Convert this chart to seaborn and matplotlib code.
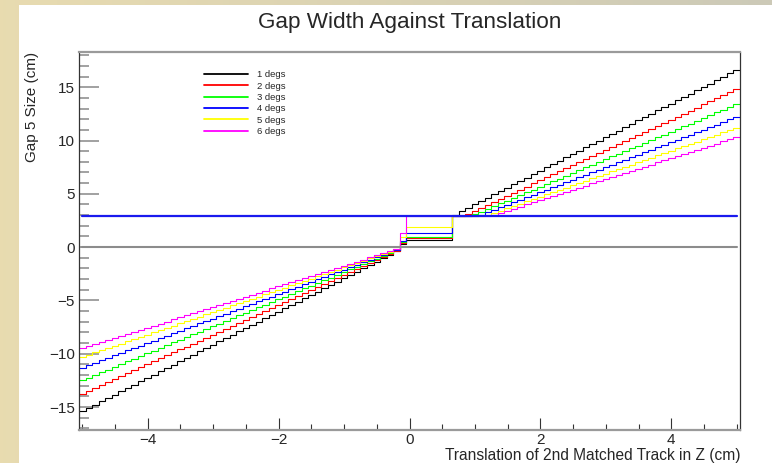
import numpy as np
import seaborn as sns
import matplotlib
matplotlib.use("Agg")
import matplotlib.pyplot as plt
from matplotlib.patches import Rectangle
from matplotlib.ticker import MultipleLocator

# histogram bins: 101 bins of width 0.1, centred on -5.0 ... 5.0
edges = np.arange(-50.5, 51.0, 1.0) / 10.0

labels = ["1 degs", "2 degs", "3 degs", "4 degs", "5 degs", "6 degs"]
colors = ["#000000", "#ff0000", "#00ff00", "#0000ff", "#ffff00", "#ff00ff"]

# bin contents, one row per unit of x (-5.0..-4.1, -4.0..-3.1, ..., 4.0..4.9, 5.0)
deg1 = [-15.40, -15.09, -14.78, -14.46, -14.15, -13.84, -13.53, -13.22, -12.90, -12.59,
        -12.28, -11.97, -11.66, -11.34, -11.03, -10.72, -10.41, -10.10, -9.78, -9.47,
        -9.16, -8.85, -8.54, -8.22, -7.91, -7.60, -7.29, -6.98, -6.66, -6.35,
        -6.04, -5.73, -5.42, -5.10, -4.79, -4.48, -4.17, -3.86, -3.54, -3.23,
        -2.92, -2.61, -2.30, -1.98, -1.67, -1.36, -1.05, -0.74, -0.38, 0.25,
        0.66, 0.66, 0.66, 0.66, 0.66, 0.66, 0.66, 3.06, 3.37, 3.69,
        4.00, 4.32, 4.63, 4.95, 5.26, 5.58, 5.89, 6.21, 6.52, 6.84,
        7.15, 7.47, 7.78, 8.10, 8.41, 8.73, 9.04, 9.36, 9.67, 9.99,
        10.30, 10.62, 10.93, 11.25, 11.56, 11.88, 12.19, 12.51, 12.82, 13.14,
        13.45, 13.77, 14.08, 14.40, 14.71, 15.03, 15.34, 15.66, 15.97, 16.29,
        16.60]
deg2 = [-13.80, -13.52, -13.24, -12.96, -12.68, -12.40, -12.12, -11.84, -11.56, -11.28,
        -11.00, -10.72, -10.44, -10.16, -9.88, -9.60, -9.32, -9.04, -8.76, -8.48,
        -8.20, -7.92, -7.64, -7.36, -7.08, -6.80, -6.52, -6.24, -5.96, -5.68,
        -5.40, -5.12, -4.84, -4.56, -4.28, -4.00, -3.72, -3.44, -3.16, -2.88,
        -2.60, -2.32, -2.04, -1.76, -1.48, -1.20, -0.92, -0.64, -0.33, 0.35,
        0.81, 0.81, 0.81, 0.81, 0.81, 0.81, 0.81, 2.95, 2.95, 3.12,
        3.40, 3.69, 3.97, 4.26, 4.54, 4.83, 5.11, 5.40, 5.68, 5.97,
        6.25, 6.54, 6.82, 7.11, 7.39, 7.68, 7.96, 8.25, 8.53, 8.82,
        9.10, 9.39, 9.67, 9.96, 10.24, 10.53, 10.81, 11.10, 11.38, 11.67,
        11.95, 12.24, 12.52, 12.81, 13.09, 13.38, 13.66, 13.95, 14.23, 14.52,
        14.80]
deg3 = [-12.50, -12.25, -11.99, -11.74, -11.48, -11.23, -10.98, -10.72, -10.47, -10.21,
        -9.96, -9.71, -9.45, -9.20, -8.94, -8.69, -8.44, -8.18, -7.93, -7.67,
        -7.42, -7.17, -6.91, -6.66, -6.40, -6.15, -5.90, -5.64, -5.39, -5.13,
        -4.88, -4.63, -4.37, -4.12, -3.86, -3.61, -3.36, -3.10, -2.85, -2.59,
        -2.34, -2.09, -1.83, -1.58, -1.32, -1.07, -0.82, -0.56, -0.29, 0.45,
        0.97, 0.97, 0.97, 0.97, 0.97, 0.97, 0.97, 2.95, 2.95, 2.95,
        3.08, 3.34, 3.60, 3.85, 4.11, 4.37, 4.63, 4.89, 5.14, 5.40,
        5.66, 5.92, 6.18, 6.43, 6.69, 6.95, 7.21, 7.47, 7.72, 7.98,
        8.24, 8.50, 8.76, 9.01, 9.27, 9.53, 9.79, 10.05, 10.30, 10.56,
        10.82, 11.08, 11.34, 11.59, 11.85, 12.11, 12.37, 12.63, 12.88, 13.14,
        13.40]
deg4 = [-11.30, -11.07, -10.84, -10.61, -10.38, -10.15, -9.92, -9.69, -9.46, -9.23,
        -9.00, -8.77, -8.54, -8.31, -8.08, -7.85, -7.62, -7.39, -7.16, -6.93,
        -6.70, -6.47, -6.24, -6.01, -5.78, -5.55, -5.32, -5.09, -4.86, -4.63,
        -4.40, -4.17, -3.94, -3.71, -3.48, -3.25, -3.02, -2.79, -2.56, -2.33,
        -2.10, -1.87, -1.64, -1.41, -1.18, -0.95, -0.72, -0.49, -0.25, 0.58,
        1.28, 1.28, 1.28, 1.28, 1.28, 1.28, 1.28, 2.95, 2.95, 2.95,
        2.95, 3.04, 3.27, 3.51, 3.74, 3.98, 4.21, 4.45, 4.68, 4.92,
        5.15, 5.39, 5.62, 5.86, 6.09, 6.33, 6.56, 6.80, 7.03, 7.27,
        7.50, 7.74, 7.97, 8.21, 8.44, 8.68, 8.91, 9.15, 9.38, 9.62,
        9.85, 10.09, 10.32, 10.56, 10.79, 11.03, 11.26, 11.50, 11.73, 11.97,
        12.20]
deg5 = [-10.30, -10.09, -9.88, -9.67, -9.46, -9.25, -9.04, -8.83, -8.62, -8.41,
        -8.20, -7.99, -7.78, -7.57, -7.36, -7.15, -6.94, -6.73, -6.52, -6.31,
        -6.10, -5.89, -5.68, -5.47, -5.26, -5.05, -4.84, -4.63, -4.42, -4.21,
        -4.00, -3.79, -3.58, -3.37, -3.16, -2.95, -2.74, -2.53, -2.32, -2.11,
        -1.90, -1.69, -1.48, -1.27, -1.06, -0.85, -0.64, -0.43, -0.21, 0.97,
        1.85, 1.85, 1.85, 1.85, 1.85, 1.85, 1.85, 2.95, 2.95, 2.95,
        2.95, 2.95, 3.00, 3.21, 3.42, 3.64, 3.86, 4.07, 4.29, 4.50,
        4.72, 4.94, 5.15, 5.37, 5.58, 5.80, 6.02, 6.23, 6.45, 6.66,
        6.88, 7.10, 7.31, 7.53, 7.74, 7.96, 8.18, 8.39, 8.61, 8.82,
        9.04, 9.26, 9.47, 9.69, 9.90, 10.12, 10.34, 10.55, 10.77, 10.98,
        11.20]
deg6 = [-9.50, -9.31, -9.11, -8.92, -8.72, -8.53, -8.34, -8.14, -7.95, -7.75,
        -7.56, -7.37, -7.17, -6.98, -6.78, -6.59, -6.40, -6.20, -6.01, -5.81,
        -5.62, -5.43, -5.23, -5.04, -4.84, -4.65, -4.46, -4.26, -4.07, -3.87,
        -3.68, -3.49, -3.29, -3.10, -2.90, -2.71, -2.52, -2.32, -2.13, -1.93,
        -1.74, -1.55, -1.35, -1.16, -0.96, -0.77, -0.58, -0.38, -0.18, 1.28,
        2.95, 2.95, 2.95, 2.95, 2.95, 2.95, 2.95, 2.95, 2.95, 2.95,
        2.95, 2.95, 2.95, 3.01, 3.21, 3.41, 3.60, 3.80, 4.00, 4.19,
        4.39, 4.59, 4.78, 4.98, 5.18, 5.38, 5.57, 5.77, 5.97, 6.16,
        6.36, 6.56, 6.75, 6.95, 7.15, 7.35, 7.54, 7.74, 7.94, 8.13,
        8.33, 8.53, 8.72, 8.92, 9.12, 9.32, 9.51, 9.71, 9.91, 10.10,
        10.30]
series = [deg1, deg2, deg3, deg4, deg5, deg6]

# reference lines
line_x = [-5.0, 5.0]
zero_level = [0.0, 0.0]
gap_level = [2.95, 2.95]

sns.set_style("white")
plt.rcParams["font.family"] = ["Liberation Sans", "DejaVu Sans"]

fig = plt.figure(figsize=(7.72, 4.63), dpi=100)
fig.patch.set_facecolor("#e6d9ab")

# desktop-like backdrop behind the canvas
bg = fig.add_axes([0, 0, 1, 1], zorder=-3)
grad = np.linspace(0, 1, 256)[None, :, None]
c0 = np.array([0.91, 0.86, 0.69])
c1 = np.array([0.80, 0.79, 0.72])
bg.imshow(c0 + (c1 - c0) * grad, aspect="auto", extent=[0, 1, 0, 1])
bg.axis("off")
fig.add_artist(Rectangle((19 / 772, 0), 1, (463 - 5) / 463, transform=fig.transFigure,
                         facecolor="white", edgecolor="none", zorder=-2))

ax = fig.add_axes([79 / 772, 1 - 430 / 463, 661 / 772, 378 / 463])
ax.set_facecolor("white")

for vals, lab, col in zip(series, labels, colors):
    sns.lineplot(x=edges, y=vals + [vals[-1]], color=col, lw=0.8,
                 drawstyle="steps-post", label=lab, ax=ax, estimator=None)

sns.lineplot(x=line_x, y=zero_level, color="#8c8c8c", lw=1.5, ax=ax)
sns.lineplot(x=line_x, y=gap_level, color="#1a1aee", lw=1.6, ax=ax)

ax.set_xlim(-5.05, 5.05)
ax.set_ylim(-17.15, 18.3)

ax.xaxis.set_major_locator(MultipleLocator(2))
ax.xaxis.set_minor_locator(MultipleLocator(0.5))
ax.yaxis.set_major_locator(MultipleLocator(5))
ax.yaxis.set_minor_locator(MultipleLocator(1))
ax.tick_params(axis="x", which="major", direction="in", length=8.6, width=0.8,
               color="#333333", labelsize=11, pad=2, top=False, bottom=True)
ax.tick_params(axis="x", which="minor", direction="in", length=4.3, width=0.8,
               color="#333333", top=False, bottom=True)
ax.tick_params(axis="y", which="major", direction="in", length=14.4, width=1.1,
               color="#888888", labelsize=11, pad=3, right=False, left=True)
ax.tick_params(axis="y", which="minor", direction="in", length=7.2, width=1.1,
               color="#888888", right=False, left=True)

for side in ["top", "bottom"]:
    ax.spines[side].set_color("#9a9a9a")
    ax.spines[side].set_linewidth(1.6)
for side in ["left", "right"]:
    ax.spines[side].set_color("#333333")
    ax.spines[side].set_linewidth(0.9)

ax.set_title("Gap Width Against Translation", fontsize=16.2, pad=17.5)
ax.set_xlabel("Translation of 2nd Matched Track in Z (cm)", fontsize=11.2, loc="right")
ax.xaxis.set_label_coords(1.0, -0.0476)
ax.set_ylabel("Gap 5 Size (cm)", fontsize=11, loc="top")
ax.yaxis.set_label_coords(-0.06, 1.0)

leg = ax.legend(loc="upper left", bbox_to_anchor=(0.189, 0.952), frameon=False,
                fontsize=6.8, handlelength=4.7, handletextpad=0.95, labelspacing=0.25,
                borderpad=0, borderaxespad=0)
for ln in leg.get_lines():
    ln.set_linewidth(1.3)

fig.savefig("out.png", dpi=100)
